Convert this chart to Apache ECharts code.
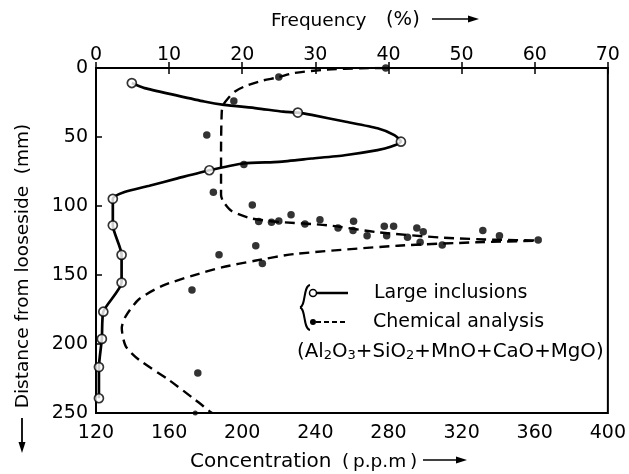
<!DOCTYPE html>
<html><head><meta charset="utf-8">
<script src="https://cdn.jsdelivr.net/npm/echarts/dist/echarts.min.js"></script>
<style>html,body{margin:0;padding:0;background:#fff}#c{width:629px;height:474px}</style>
</head><body><div id="c"></div>
<script>
// Large inclusions: [frequency %, distance mm]
const incPoints = [[4.9,10.9],[27.6,32.3],[41.7,53.4],[15.5,74.1],[2.3,94.8],[2.3,114],[3.5,135.4],[3.5,155.5],[1.0,176.6],[0.8,196.3],[0.4,216.7],[0.4,239.3]];
// Large inclusions curve: [frequency %, distance mm]
const incCurve = [[4.9,10.9],[6.65,14.6],[10.7,19.5],[14.8,24.3],[17.5,26.7],[22,29.2],[25.6,31.6],[27.6,32.3],[29.5,34],[34,38.8],[38.5,43.7],[40.8,48.6],[41.7,53.4],[40.3,57.1],[38.5,59.5],[34,63.2],[29.5,65.6],[25,68],[20.2,69.2],[15.5,74.1],[11,80.2],[7.3,85.3],[3.9,89.9],[2.3,94.8],[2.3,114],[3.5,135.4],[3.5,155.5],[1.0,176.6],[0.8,196.3],[0.4,216.7],[0.4,239.3]];
// Chemical analysis: [concentration ppm, distance mm]
const chemPoints = [[278.5,0],[220,6.6],[195.4,24],[180.6,48.6],[200.9,70],[184.2,90],[205.5,99.3],[209,111.3],[216,111.8],[220,110.8],[226.7,106.4],[234.3,113],[242.5,110],[252.4,116],[260.9,111],[260.6,117.8],[268.3,121.5],[277.7,114.7],[282.8,114.7],[279,121.5],[295.5,116],[299,118.6],[290.4,122.7],[297.3,126.3],[309.4,128.3],[331.6,117.8],[340.7,121.5],[361.9,124.6],[187.3,135.4],[207.4,128.8],[211,141.6],[172.5,160.8],[175.7,221]];
const chemEdgePoints = [[174.3,250]];
// Chemical analysis curve: [concentration ppm, distance mm]
const chemCurve = [[278,0],[264.7,0.2],[246.6,1.2],[228.5,3.6],[219.5,6.8],[210.5,9.3],[201.4,13.3],[196,17],[192.3,21.9],[189.6,26.7],[188.8,31.6],[188.4,60],[188.4,92],[189.5,96.5],[194,103.5],[205,109],[220,111.5],[247,114],[274,119],[310,123],[340,124.5],[361,125],[328,126.3],[285,128.8],[228.5,134.8],[206.8,139.7],[188.8,144.5],[172.5,150.6],[156.2,157.9],[143.5,167.6],[136.3,179.8],[134.1,188.3],[136.3,201.7],[143.5,211.4],[159.8,226],[174.3,240.5],[182.4,249],[183.5,250]];
const concRange = [120, 400, 40];
const freqRange = [0, 70, 10];
const distRange = [0, 250, 50];

const FONT = 'DejaVu Sans';
function axis(extra, margin) {
  return Object.assign({
    type: 'value',
    axisLine: {show: true, lineStyle: {color: '#000', width: 2}},
    axisTick: {show: true, inside: true, length: 6, lineStyle: {color: '#000', width: 1.5}},
    axisLabel: {color: '#000', fontSize: 19, fontFamily: FONT, margin: margin},
    splitLine: {show: false}
  }, extra);
}
const chart = echarts.init(document.getElementById('c'));
chart.setOption({
  animation: false,
  backgroundColor: '#fff',
  grid: {left: 96, right: 17, top: 68, bottom: 61, show: true, borderColor: '#000', borderWidth: 2},
  xAxis: [
    axis({position: 'bottom', min: concRange[0], max: concRange[1], interval: concRange[2]}, 11),
    axis({position: 'top', min: freqRange[0], max: freqRange[1], interval: freqRange[2]}, 3)
  ],
  yAxis: [
    axis({inverse: true, min: distRange[0], max: distRange[1], interval: distRange[2]}, 8)
  ],
  series: [
    {type: 'line', xAxisIndex: 1, data: incCurve, smooth: 0.2, showSymbol: false, lineStyle: {color: '#000', width: 2.7}, z: 2},
    {type: 'scatter', xAxisIndex: 1, data: incPoints, symbol: 'circle', symbolSize: 9, itemStyle: {color: '#fff', borderColor: '#000', borderWidth: 1.7}, z: 5},
    {type: 'line', xAxisIndex: 0, data: chemCurve, smooth: 0.25, showSymbol: false, lineStyle: {color: '#000', width: 2.4, type: [10, 6]}, z: 2},
    {type: 'scatter', xAxisIndex: 0, data: chemPoints, symbol: 'circle', symbolSize: 7.5, itemStyle: {color: '#000'}, z: 4},
    {type: 'scatter', xAxisIndex: 0, data: chemEdgePoints, symbol: 'circle', symbolSize: 5, itemStyle: {color: '#000'}, z: 4}
  ],
  graphic: [
    {type: 'text', x: 271, y: 21, style: {text: 'Frequency', fontSize: 18.5, fontFamily: FONT, fill: '#000', textVerticalAlign: 'middle'}},
    {type: 'text', x: 386, y: 20, style: {text: '(%)', fontSize: 19.5, fontFamily: FONT, fill: '#000', textVerticalAlign: 'middle'}},
    {type: 'line', shape: {x1: 432, y1: 19, x2: 474, y2: 19}, style: {stroke: '#000', lineWidth: 1.5}},
    {type: 'polygon', shape: {points: [[468, 15.5], [479, 19], [468, 22.5]]}, style: {fill: '#000'}},
    {type: 'text', x: 190, y: 462, style: {text: 'Concentration', fontSize: 20, fontFamily: FONT, fill: '#000', textVerticalAlign: 'middle'}},
    {type: 'text', x: 342, y: 462, style: {text: '(\u2009p.p.m\u2009)', fontSize: 18.5, fontFamily: FONT, fill: '#000', textVerticalAlign: 'middle'}},
    {type: 'line', shape: {x1: 423, y1: 460, x2: 461, y2: 460}, style: {stroke: '#000', lineWidth: 1.5}},
    {type: 'polygon', shape: {points: [[456, 456.5], [467, 460], [456, 463.5]]}, style: {fill: '#000'}},
    {type: 'text', x: 23, y: 266, rotation: Math.PI / 2, style: {text: 'Distance from looseside  (mm)', fontSize: 18.5, fontFamily: FONT, fill: '#000', textAlign: 'center', textVerticalAlign: 'middle'}},
    {type: 'line', shape: {x1: 22, y1: 418, x2: 22, y2: 446}, style: {stroke: '#000', lineWidth: 1.8}},
    {type: 'polygon', shape: {points: [[18.5, 442], [22, 453], [25.5, 442]]}, style: {fill: '#000'}},
    {type: 'bezierCurve', shape: {x1: 310, y1: 285, cpx1: 303, cpy1: 286, cpx2: 306, cpy2: 306, x2: 300, y2: 307.5}, style: {fill: 'none', stroke: '#000', lineWidth: 2}},
    {type: 'bezierCurve', shape: {x1: 300, y1: 307.5, cpx1: 306, cpy1: 309, cpx2: 303, cpy2: 329, x2: 310, y2: 330}, style: {fill: 'none', stroke: '#000', lineWidth: 2}},
    {type: 'line', shape: {x1: 317, y1: 293, x2: 348, y2: 293}, style: {stroke: '#000', lineWidth: 2.5}},
    {type: 'circle', shape: {cx: 313, cy: 293, r: 3.5}, style: {fill: '#fff', stroke: '#000', lineWidth: 1.5}},
    {type: 'line', shape: {x1: 316, y1: 322, x2: 348, y2: 322}, style: {stroke: '#000', lineWidth: 2, lineDash: [5, 3]}},
    {type: 'circle', shape: {cx: 313, cy: 322, r: 3}, style: {fill: '#000'}},
    {type: 'text', x: 374, y: 293, style: {text: 'Large inclusions', fontSize: 19, fontFamily: FONT, fill: '#000', textVerticalAlign: 'middle'}},
    {type: 'text', x: 373, y: 322, style: {text: 'Chemical analysis', fontSize: 19, fontFamily: FONT, fill: '#000', textVerticalAlign: 'middle'}},
    {type: 'text', x: 297, y: 352, style: {
      text: '(Al{s|2}O{s|3}+SiO{s|2}+MnO+CaO+MgO)', fontSize: 19.8, fontFamily: FONT, fill: '#000', textVerticalAlign: 'middle',
      rich: {s: {fontSize: 13, fontFamily: FONT, fill: '#000', padding: [8, 0, 0, 0]}}
    }}
  ]
});
</script></body></html>
